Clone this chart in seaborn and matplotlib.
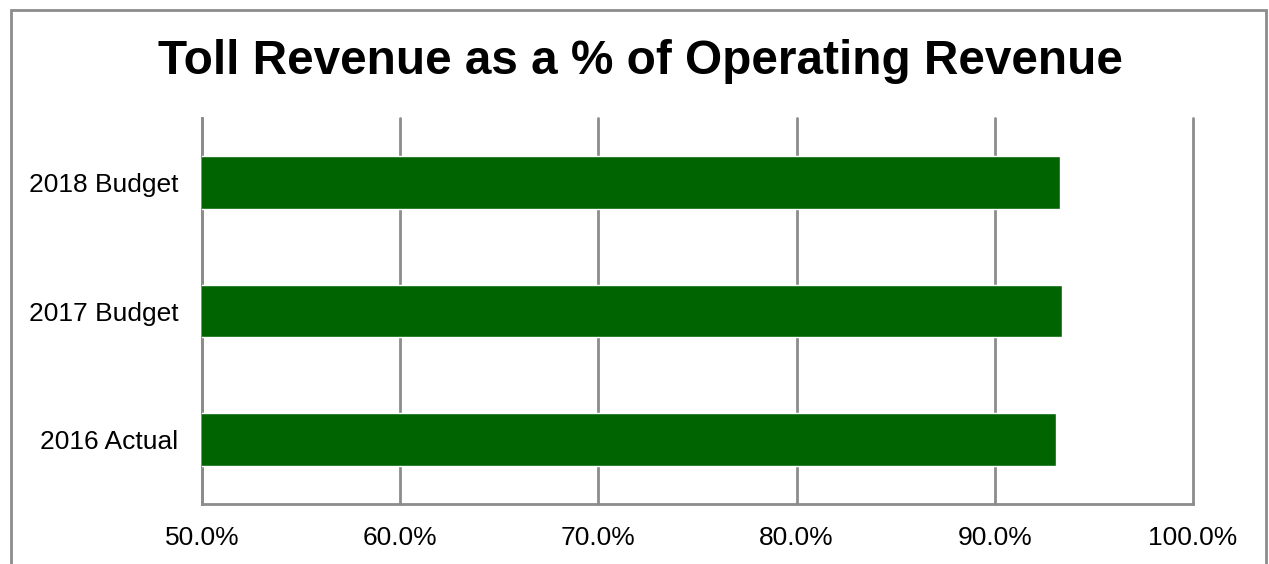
import matplotlib
matplotlib.use("Agg")
import matplotlib.pyplot as plt
import matplotlib.patches as mpatches
from matplotlib.ticker import FixedLocator, FuncFormatter
import seaborn as sns
import pandas as pd

categories = ["2018 Budget", "2017 Budget", "2016 Actual"]
toll_share = [93.3, 93.4, 93.1]  # percent of operating revenue
x_ticks = [50, 60, 70, 80, 90, 100]

sns.set_theme(style="white")
plt.rcParams["font.family"] = ["Liberation Sans", "DejaVu Sans"]

df = pd.DataFrame({"period": categories, "share": toll_share})

fig = plt.figure(figsize=(12.69, 5.64), dpi=100)
ax = fig.add_axes([202 / 1269, 1 - 504 / 564, (1193 - 202) / 1269, (504 - 118) / 564])

grid_gray = "#8c8c8c"

sns.barplot(data=df, x="share", y="period", order=categories, orient="h",
            color="#006400", saturation=1, width=0.41, ax=ax, zorder=3)

ax.set_xlim(50, 100)
ax.set_ylim(2.5, -0.5)
ax.xaxis.set_major_locator(FixedLocator(x_ticks))
ax.xaxis.set_major_formatter(FuncFormatter(lambda v, _: f"{v:.1f}%"))
ax.grid(axis="x", color=grid_gray, linewidth=2, zorder=0)
ax.grid(axis="y", visible=False)
ax.set_axisbelow(True)
for gl in ax.get_xgridlines():
    gl.set_clip_on(False)

for side in ("top", "right"):
    ax.spines[side].set_visible(False)
for side in ("left", "bottom"):
    ax.spines[side].set_color(grid_gray)
    ax.spines[side].set_linewidth(2)

ax.tick_params(axis="both", length=0, labelsize=19, colors="black")
ax.tick_params(axis="x", pad=16)
ax.tick_params(axis="y", pad=17)
ax.set_xlabel("")
ax.set_ylabel("")

fig.text(640 / 1269, 1 - 62 / 564, "Toll Revenue as a % of Operating Revenue",
         ha="center", va="center", fontsize=34.4, fontweight="bold", color="black")

# outer chart frame, open at the bottom edge
frame = mpatches.Rectangle((10.5 / 1269, -0.05), (1266 - 10.5) / 1269, 1.05 - 9.5 / 564,
                           transform=fig.transFigure, fill=False,
                           edgecolor="#8c8c8c", linewidth=2)
fig.patches.append(frame)

fig.savefig("out.png", dpi=100, facecolor="white")
